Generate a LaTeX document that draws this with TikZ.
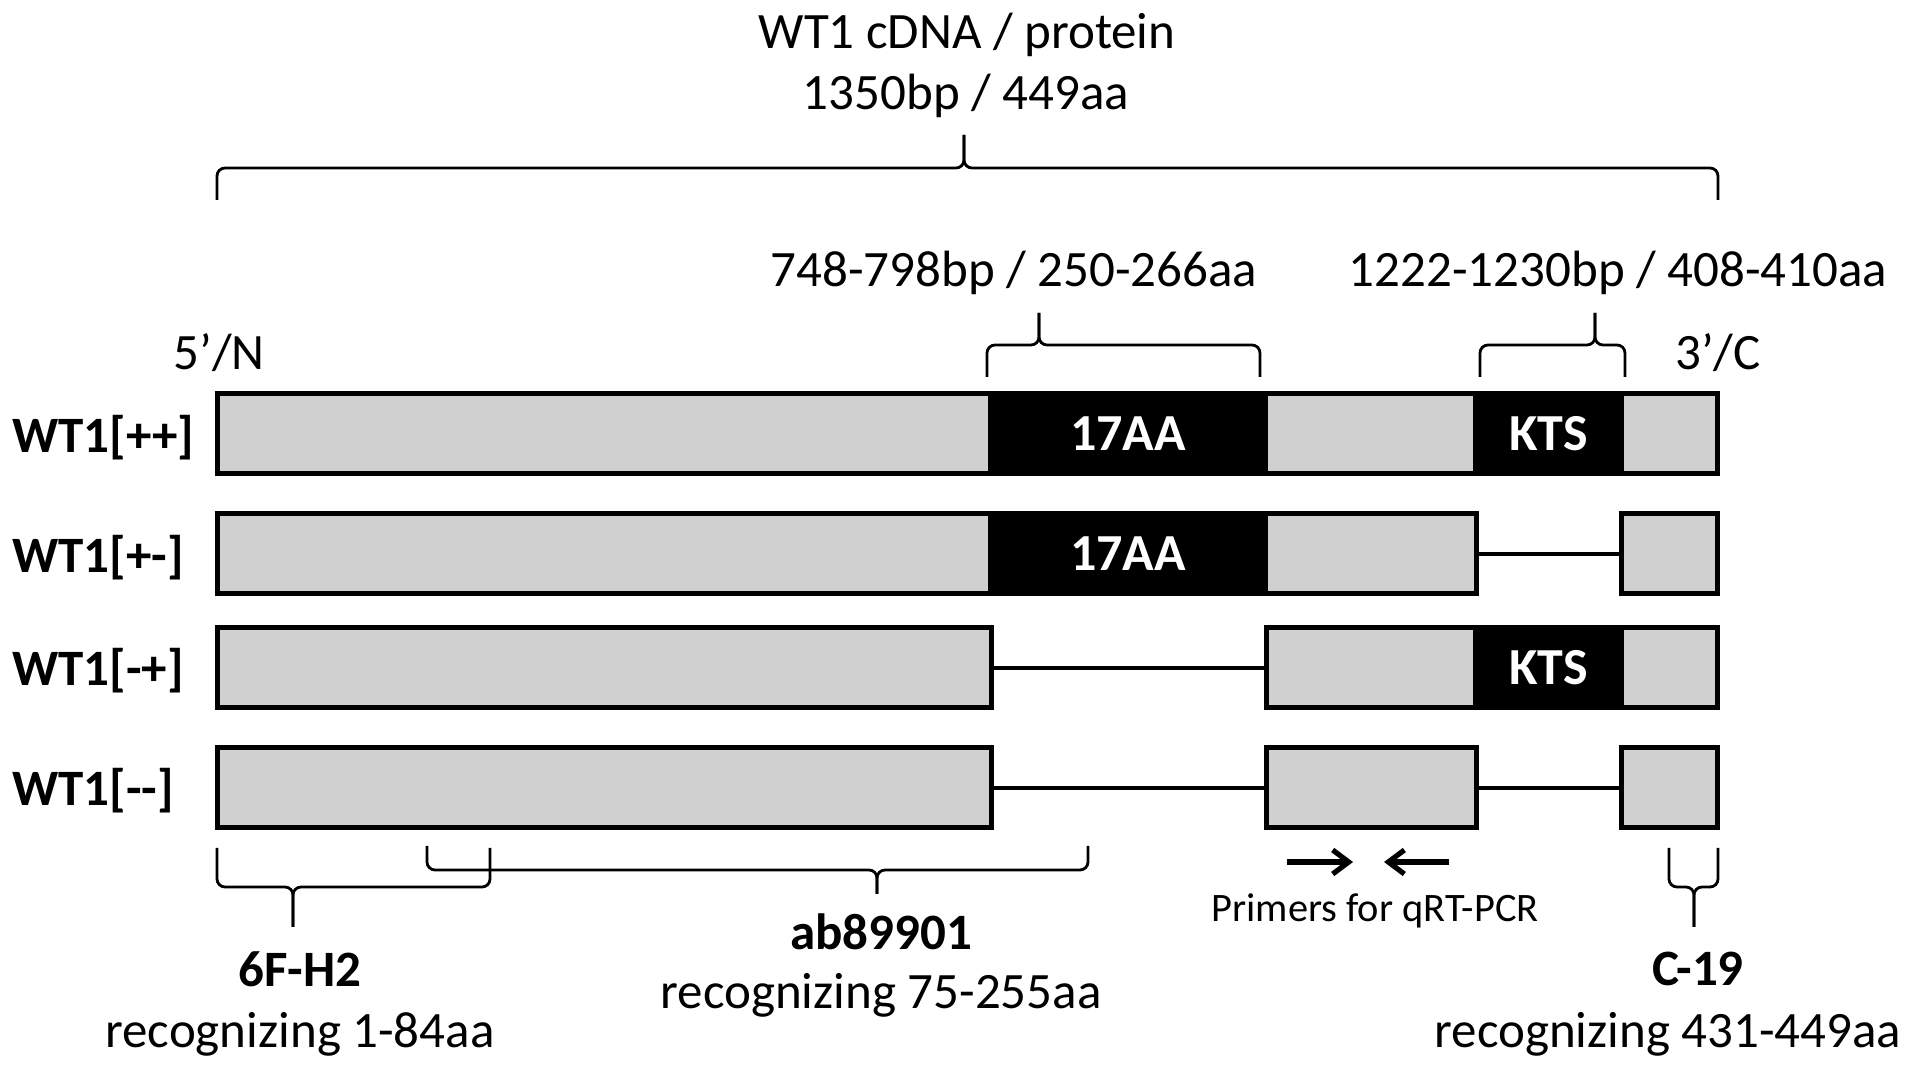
\documentclass[tikz,border=0pt]{standalone}
\usepackage{fontspec}
\setmainfont{Carlito}
\usetikzlibrary{arrows.meta}
\definecolor{exongray}{RGB}{208,208,208}
\begin{document}
\begin{tikzpicture}[x=0.5pt,y=-0.5pt,
  exon/.style={draw=black, line width=2.5pt, fill=exongray, rectangle, inner sep=0pt, outer sep=0pt, minimum height=40pt, anchor=north west},
  blk/.style={fill=black, rectangle, inner sep=0pt, outer sep=0pt, minimum height=40pt, anchor=north west, text=white, font=\fontsize{26}{31}\selectfont\bfseries},
  intron/.style={line width=2.2pt},
  brace/.style={line width=1.4pt, rounded corners=4pt},
  primer/.style={line width=2.6pt, -{Straight Barb[length=8pt,width=12pt,line width=2.6pt]}},
  txt/.style={inner sep=0pt, font=\fontsize{25.5}{30}\selectfont},
  btxt/.style={inner sep=0pt, font=\fontsize{25.5}{30}\selectfont\bfseries},
  stxt/.style={inner sep=0pt, font=\fontsize{20.2}{24}\selectfont}
]
\useasboundingbox (0,0) rectangle (1913,1068);
\fill[white] (0,0) rectangle (1913,1068);

% title
\node[txt, anchor=base] (t1) at (967,49) {WT1 cDNA / protein};
\node[txt, anchor=base] (t2) at (966,110) {1350bp / 449aa};
% top brace
\draw[brace] (217,200) -- (217,168) -- (964,168) -- (964,135);
\draw[brace] (1718,200) -- (1718,168) -- (964,168) -- (964,135);

% region labels
\node[txt, anchor=base] (l17) at (1014,287) {748-798bp / 250-266aa};
\node[txt, anchor=base] (lkts) at (1618,287) {1222-1230bp / 408-410aa};
\draw[brace] (987,377) -- (987,345) -- (1039,345) -- (1039,313);
\draw[brace] (1260,377) -- (1260,345) -- (1039,345) -- (1039,313);
\draw[brace] (1480,377) -- (1480,345) -- (1595,345) -- (1595,313);
\draw[brace] (1625,377) -- (1625,345) -- (1595,345) -- (1595,313);

\node[txt, anchor=base] (n5) at (219,370) {5’/N};
\node[txt, anchor=base] (c3) at (1718,370) {3’/C};

% row 1
\node[exon, minimum width=750pt] (r1) at (217,394) {};
\node[blk, minimum width=140pt] (r1aa) at (988,394) {17AA};
\node[blk, minimum width=75.5pt] (r1kts) at (1473,394) {KTS};
% row 2
\node[exon, minimum width=629.5pt] (r2a) at (217,514) {};
\node[blk, minimum width=140pt] (r2aa) at (988,514) {17AA};
\node[exon, minimum width=48pt] (r2b) at (1621,514) {};
\draw[intron] (r2a.east) -- (r2b.west);
% row 3
\node[exon, minimum width=387pt] (r3a) at (217,628) {};
\node[exon, minimum width=225.5pt] (r3b) at (1266,628) {};
\node[blk, minimum width=75.5pt] (r3kts) at (1473,628) {KTS};
\draw[intron] (r3a.east) -- (r3b.west);
% row 4
\node[exon, minimum width=387pt] (r4a) at (217,748) {};
\node[exon, minimum width=105pt] (r4b) at (1266,748) {};
\node[exon, minimum width=48pt] (r4c) at (1621,748) {};
\draw[intron] (r4a.east) -- (r4b.west);
\draw[intron] (r4b.east) -- (r4c.west);

% row labels
\node[btxt, anchor=base west] (w1) at (12,453) {WT1[++]};
\node[btxt, anchor=base west] (w2) at (12,573) {WT1[+-]};
\node[btxt, anchor=base west] (w3) at (12,686) {WT1[-+]};
\node[btxt, anchor=base west] (w4) at (12,806) {WT1[-{}-]};

% bottom braces
\draw[brace] (217,848) -- (217,887) -- (293,887) -- (293,927);
\draw[brace] (490,848) -- (490,887) -- (293,887) -- (293,927);
\draw[brace] (427,846) -- (427,870) -- (877,870) -- (877,894);
\draw[brace] (1088,846) -- (1088,870) -- (877,870) -- (877,894);
\draw[brace] (1669,848) -- (1669,887) -- (1694,887) -- (1694,927);
\draw[brace] (1718,848) -- (1718,887) -- (1694,887) -- (1694,927);

% primers
\coordinate (pf1) at (1287,862);
\coordinate (pf2) at (1353,862);
\coordinate (pr1) at (1449,862);
\coordinate (pr2) at (1384,862);
\draw[primer] (pf1) -- (pf2);
\draw[primer] (pr1) -- (pr2);
\node[stxt, anchor=base] (prim) at (1375,922) {Primers for qRT-PCR};

% antibody labels
\node[btxt, anchor=base] (a1) at (300,987) {6F-H2};
\node[txt, anchor=base] (a1r) at (300,1048) {recognizing 1-84aa};
\node[btxt, anchor=base] (a2) at (881,950) {ab89901};
\node[txt, anchor=base] (a2r) at (881,1008) {recognizing 75-255aa};
\node[btxt, anchor=base] (a3) at (1698,986) {C-19};
\node[txt, anchor=base] (a3r) at (1668,1048) {recognizing 431-449aa};
\end{tikzpicture}
\end{document}
